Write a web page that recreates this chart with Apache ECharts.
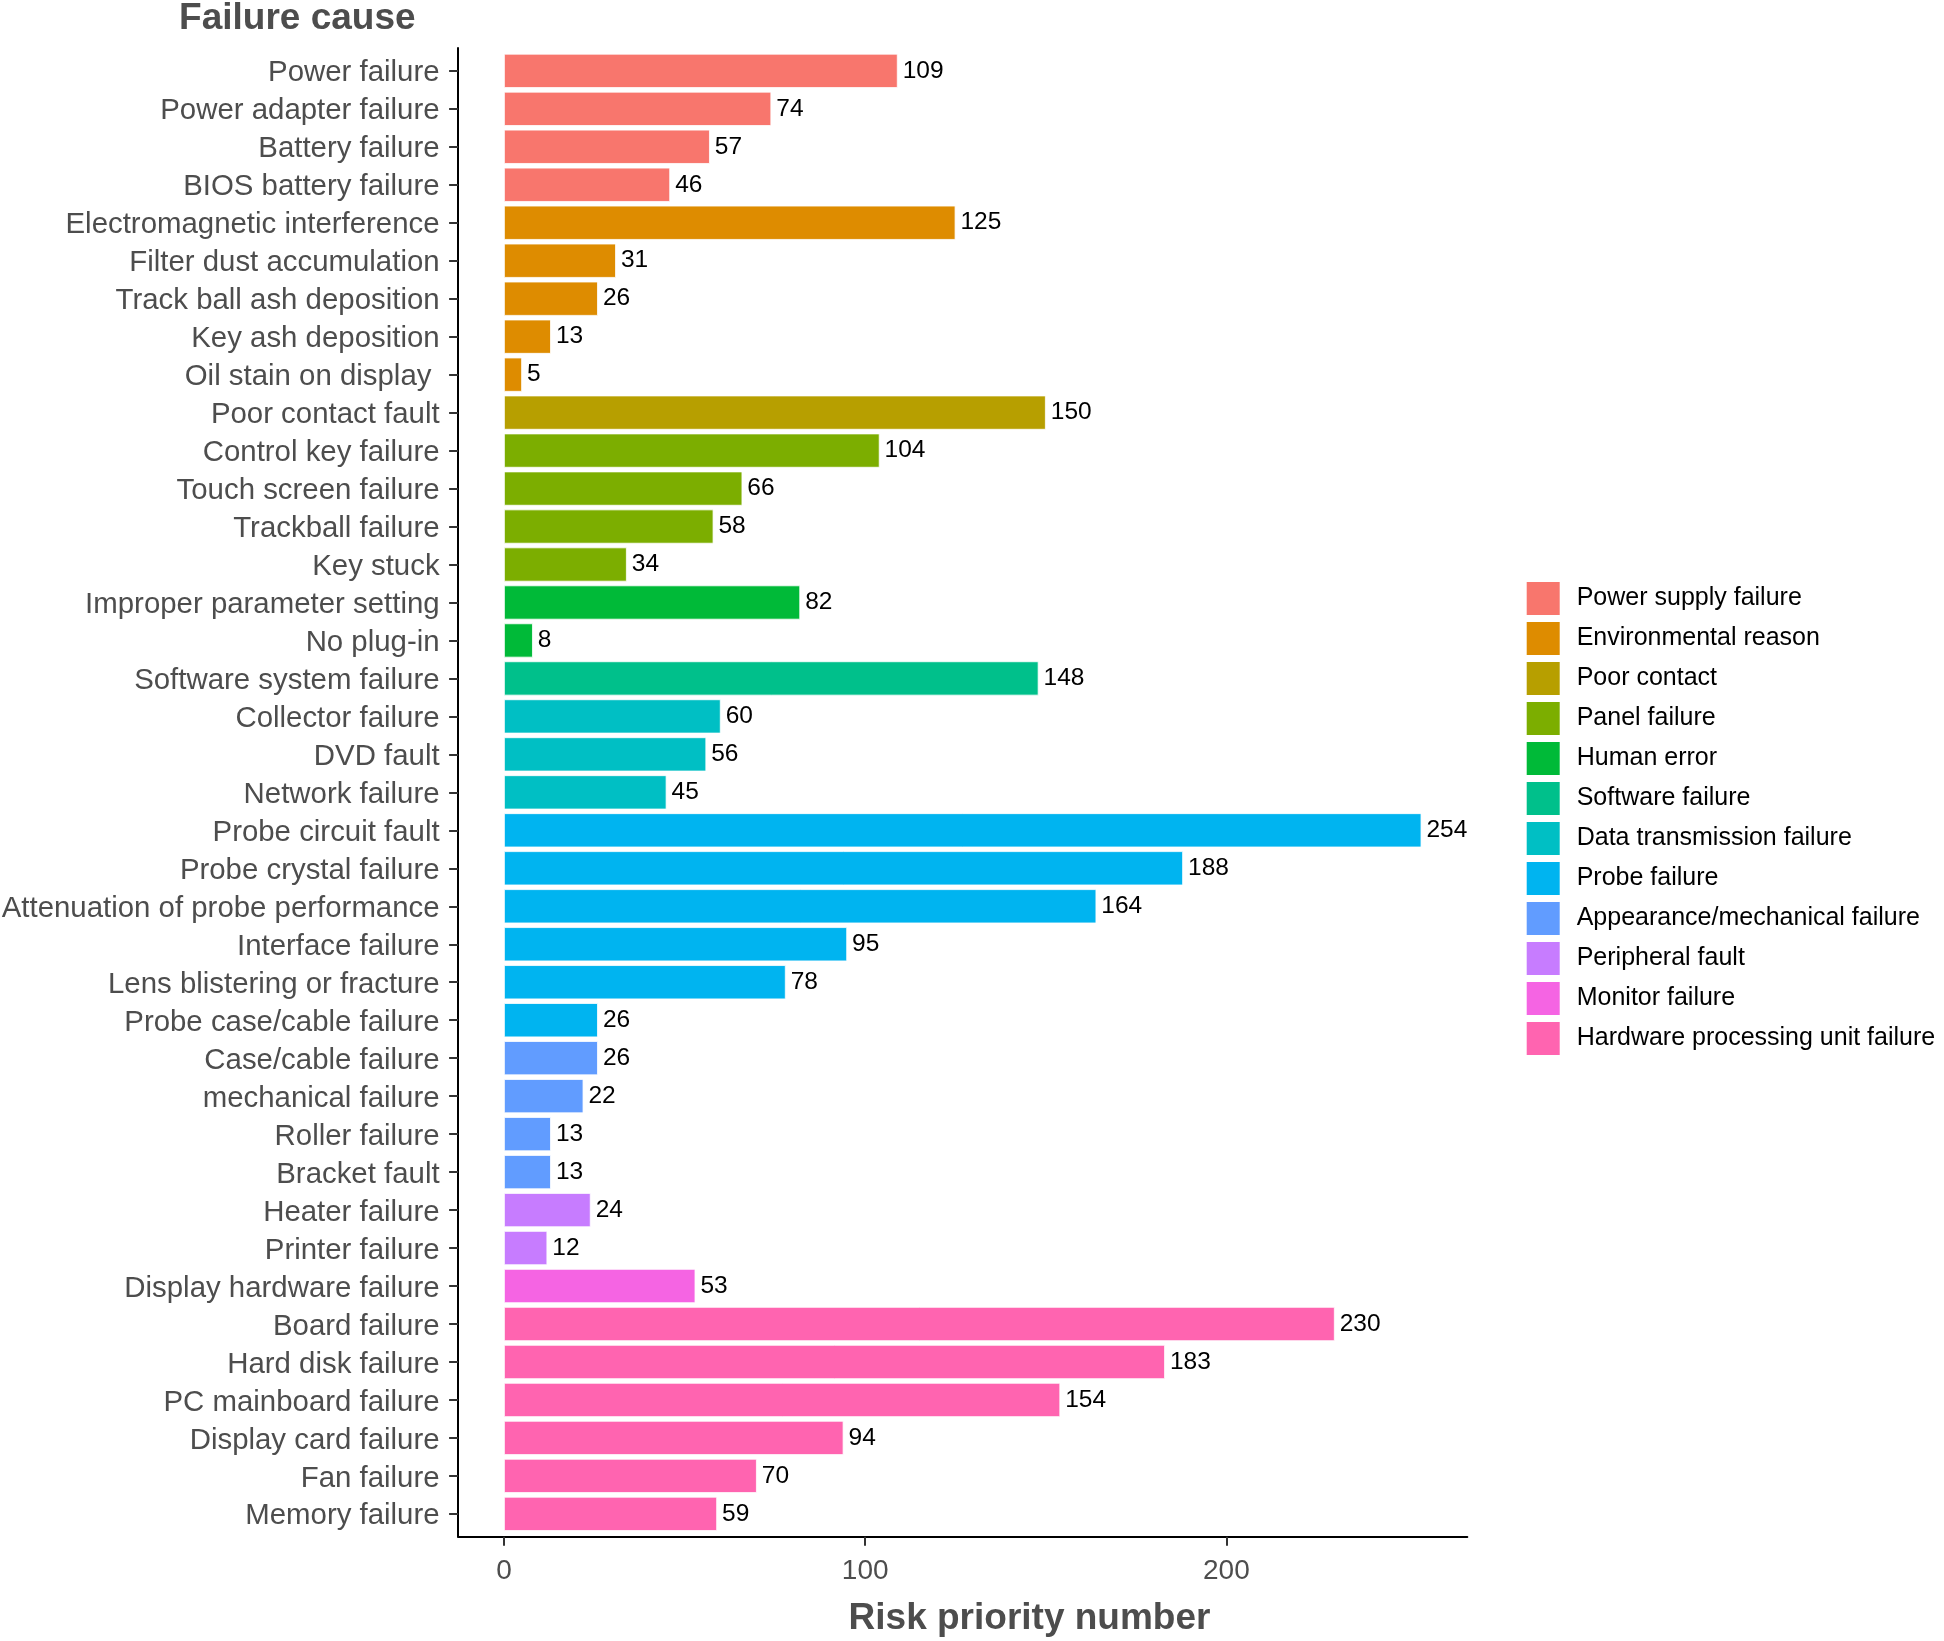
<!DOCTYPE html>
<html>
<head>
<meta charset="utf-8">
<script src="https://cdn.jsdelivr.net/npm/echarts@6/dist/echarts.min.js"></script>
<style>html,body{margin:0;padding:0;background:#fff}#c{width:1944px;height:1641px}</style>
</head>
<body>
<div id="c"></div>
<script>
const categories = [
  'Power failure','Power adapter failure','Battery failure','BIOS battery failure',
  'Electromagnetic interference','Filter dust accumulation','Track ball ash deposition','Key ash deposition','Oil stain on display ',
  'Poor contact fault',
  'Control key failure','Touch screen failure','Trackball failure','Key stuck',
  'Improper parameter setting','No plug-in',
  'Software system failure',
  'Collector failure','DVD fault','Network failure',
  'Probe circuit fault','Probe crystal failure','Attenuation of probe performance','Interface failure','Lens blistering or fracture','Probe case/cable failure',
  'Case/cable failure','mechanical failure','Roller failure','Bracket fault',
  'Heater failure','Printer failure',
  'Display hardware failure',
  'Board failure','Hard disk failure','PC mainboard failure','Display card failure','Fan failure','Memory failure'
];
const values = [
  109,74,57,46,
  125,31,26,13,5,
  150,
  104,66,58,34,
  82,8,
  148,
  60,56,45,
  254,188,164,95,78,26,
  26,22,13,13,
  24,12,
  53,
  230,183,154,94,70,59
];
const groupOf = [
  0,0,0,0,
  1,1,1,1,1,
  2,
  3,3,3,3,
  4,4,
  5,
  6,6,6,
  7,7,7,7,7,7,
  8,8,8,8,
  9,9,
  10,
  11,11,11,11,11,11
];
const groups = ['Power supply failure','Environmental reason','Poor contact','Panel failure','Human error','Software failure','Data transmission failure','Probe failure','Appearance/mechanical failure','Peripheral fault','Monitor failure','Hardware processing unit failure'];
const colors = ['#F8766D','#DE8C00','#B79F00','#7CAE00','#00BA38','#00C08B','#00BFC4','#00B4F0','#619CFF','#C77CFF','#F564E3','#FF64B0'];
const xTicks = [0,100,200];
const xMin = -12.7, xMax = 266.7;

const FONT = '"Liberation Sans", Arial, sans-serif';
const chart = echarts.init(document.getElementById('c'), null, {renderer:'canvas'});

const series = groups.map((g, gi) => ({
  name: g,
  type: 'bar',
  stack: 'all',
  xAxisIndex: 0,
  yAxisIndex: 0,
  barWidth: '90%',
  data: values.map((v, i) => groupOf[i] === gi ? v : '-'),
  itemStyle: {color: colors[gi], borderColor: '#ffffff', borderWidth: 0.8},
  label: {show: true, position: 'right', distance: 5, fontSize: 24.5, color: '#000', fontFamily: FONT},
  emphasis: {disabled: true},
  animation: false
}));

chart.setOption({
  animation: false,
  textStyle: {fontFamily: FONT},
  grid: [
    {left: 458.1, width: 1009.2, top: 51.86, height: 1481, containLabel: false, outerBoundsMode: 'none'},
    {left: 458.1, width: 1009.2, top: 48.07, height: 1488.6, containLabel: false, outerBoundsMode: 'none'}
  ],
  xAxis: [
    {type: 'value', gridIndex: 0, min: xMin, max: xMax, show: false},
    {type: 'value', gridIndex: 1, min: xMin, max: xMax,
      axisLine: {show: true, onZero: false, lineStyle: {color: '#000', width: 2}},
      axisTick: {show: true, length: 9, customValues: xTicks, lineStyle: {color: '#333', width: 2}},
      axisLabel: {show: true, customValues: xTicks, fontSize: 28, color: '#4d4d4d', margin: 21, fontFamily: FONT},
      splitLine: {show: false}
    }
  ],
  yAxis: [
    {type: 'category', gridIndex: 0, data: categories, inverse: true,
      axisLine: {show: false, onZero: false},
      axisTick: {show: true, alignWithLabel: true, length: 9, lineStyle: {color: '#333', width: 2}},
      axisLabel: {fontSize: 29.4, color: '#4d4d4d', margin: 18.5, fontFamily: FONT, interval: 0, verticalAlign: 'top', lineHeight: 5}
    },
    {type: 'value', gridIndex: 1, min: 0, max: 1,
      axisLine: {show: true, onZero: false, lineStyle: {color: '#000', width: 2}},
      axisTick: {show: false}, axisLabel: {show: false}, splitLine: {show: false}
    }
  ],
  legend: {
    orient: 'vertical',
    left: 1524.7,
    top: 580,
    padding: 0,
    itemWidth: 35,
    itemHeight: 35,
    itemGap: 3,
    icon: 'rect',
    data: groups,
    selectedMode: false,
    textStyle: {fontSize: 25, color: '#000', fontFamily: FONT, padding: [0, 0, 0, 11]}
  },
  graphic: [
    {type: 'text', x: 297.3, y: 19, style: {text: 'Failure cause', fill: '#4d4d4d', font: 'bold 37px ' + FONT, textAlign: 'center', textVerticalAlign: 'middle'}},
    {type: 'text', x: 1029.5, y: 1619, style: {text: 'Risk priority number', fill: '#4d4d4d', font: 'bold 37px ' + FONT, textAlign: 'center', textVerticalAlign: 'middle'}}
  ],
  series: series
});
</script>
</body>
</html>
